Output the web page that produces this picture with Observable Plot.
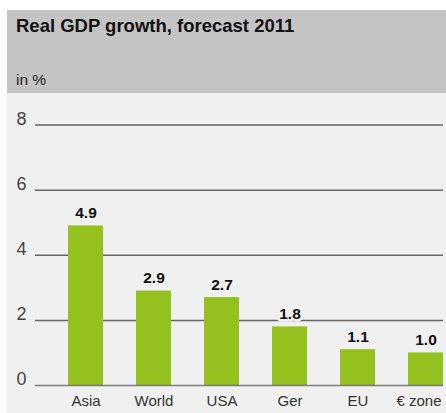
<!DOCTYPE html>
<html>
<head>
<meta charset="utf-8">
<script src="https://cdn.jsdelivr.net/npm/d3@7"></script>
<script src="https://cdn.jsdelivr.net/npm/@observablehq/plot@0.6"></script>
<style>
  html, body { margin: 0; padding: 0; background: #ffffff; }
  body { width: 446px; height: 413px; position: relative; overflow: hidden; font-family: "Liberation Sans", Arial, sans-serif; }
  #header { position: absolute; left: 7px; top: 10px; width: 439px; height: 83px; background: #c4c4c4; }
  #title { position: absolute; left: 9px; top: 5px; font-size: 18.5px; font-weight: bold; color: #111; white-space: nowrap; }
  #unit { position: absolute; left: 9px; top: 61px; font-size: 15.5px; color: #222; white-space: nowrap; }
  #chart { position: absolute; left: 7px; top: 93px; width: 439px; height: 320px; background: #f0f0f0; }
  #chart svg { display: block; overflow: visible; }
</style>
</head>
<body>
<div id="header">
  <div id="title">Real GDP growth, forecast 2011</div>
  <div id="unit">in %</div>
</div>
<div id="chart"></div>
<script>
const categories = ["Asia", "World", "USA", "Ger", "EU", "€ zone"];
const growth = [4.9, 2.9, 2.7, 1.8, 1.1, 1.0];
const labels = ["4.9", "2.9", "2.7", "1.8", "1.1", "1.0"];
const yTicks = [0, 2, 4, 6, 8];
const gridValues = [2, 4, 6, 8];

const data = categories.map((c, i) => ({category: c, value: growth[i], label: labels[i]}));
const lastCategory = categories[categories.length - 1];

const chart = Plot.plot({
  width: 439,
  height: 320,
  marginLeft: 28,
  marginRight: 3,
  marginTop: 31.5,
  marginBottom: 28,
  style: {background: "#f0f0f0", fontFamily: "'Liberation Sans', Arial, sans-serif"},
  x: {domain: categories, paddingInner: 0.485, paddingOuter: 0.2425, align: 1, label: null},
  y: {domain: [0, 8], label: null},
  marks: [
    Plot.ruleY(gridValues, {stroke: "#666", strokeWidth: 1.5}),
    Plot.barY(data, {x: "category", y: "value", fill: "#95c11f"}),
    Plot.ruleY([0], {stroke: "#555", strokeWidth: 1.5, strokeOpacity: 0.75}),
    Plot.text(data, {x: "category", y: "value", text: "label", dy: -13, fontSize: 15.5, fontWeight: "bold", fill: "#111", stroke: "#f0f0f0", strokeWidth: 5}),
    Plot.axisY({ticks: yTicks, tickSize: 0, tickPadding: 9, fontSize: 18, color: "#444", dy: -6, tickFormat: d => String(d)}),
    Plot.axisX({ticks: categories.slice(0, -1), tickSize: 0, tickPadding: 10, fontSize: 15, color: "#333"}),
    Plot.axisX({ticks: [lastCategory], tickSize: 0, tickPadding: 10, fontSize: 15, color: "#333", dx: -7})
  ]
});
document.getElementById("chart").appendChild(chart);
</script>
</body>
</html>
